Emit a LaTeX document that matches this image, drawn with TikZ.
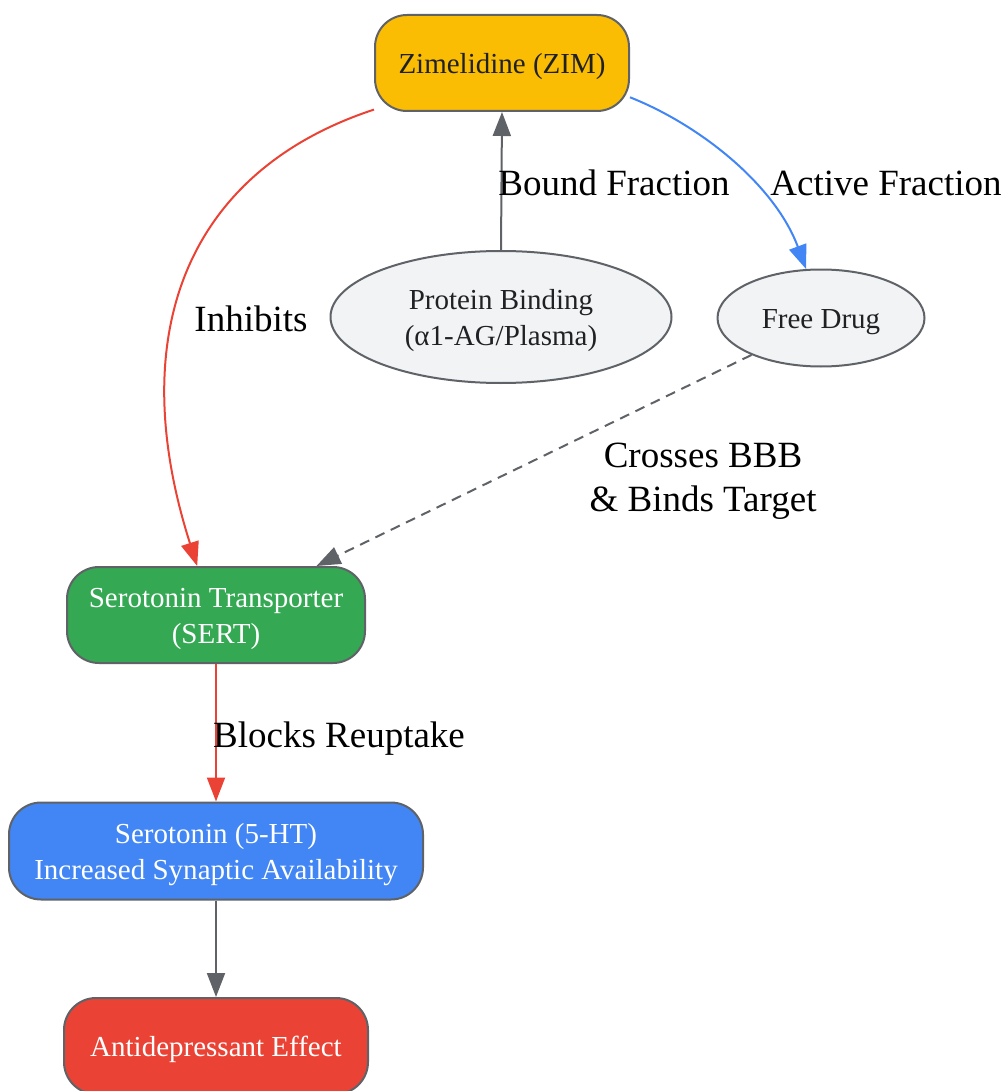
\documentclass[tikz,border=0pt]{standalone}
\usepackage{fontspec}
\setmainfont{Liberation Serif}
\usepackage{tikz}
\usetikzlibrary{arrows.meta,shapes.geometric}

\definecolor{zimyellow}{HTML}{FBBC04}
\definecolor{sertgreen}{HTML}{34A853}
\definecolor{htblue}{HTML}{4285F4}
\definecolor{effred}{HTML}{EA4335}
\definecolor{ovalgrey}{HTML}{F1F3F4}
\definecolor{edgegrey}{HTML}{5F6368}
\definecolor{darktext}{HTML}{202124}
\newcommand{\nodelift}{\rule{0pt}{28pt}}

\begin{document}
\begin{tikzpicture}[x=1pt,y=-1pt,
        >={Triangle[length=24pt,width=18pt]},
        box/.style={draw=edgegrey,line width=2pt,rounded corners=32pt,inner sep=0pt,align=center,font=\fontsize{29}{36}\selectfont},
        oval/.style={ellipse,draw=edgegrey,fill=ovalgrey,line width=2pt,inner sep=0pt,align=center,text=darktext,font=\fontsize{29}{36}\selectfont},
        lbl/.style={align=center,font=\fontsize{37}{44}\selectfont},
        link/.style={->,line width=2pt}]
        \useasboundingbox (0,0) rectangle (1005,1091);
        % nodes
        \node[box,fill=zimyellow,text=darktext,minimum width=254pt,minimum height=96pt] (zim) at (502,63) {\nodelift Zimelidine (ZIM)};
        \node[oval,minimum width=341pt,minimum height=132pt] (protein) at (501,317) {\nodelift Protein Binding\\(α1-AG/Plasma)};
        \node[oval,minimum width=207pt,minimum height=97pt] (free) at (821,318) {\nodelift Free Drug};
        \node[box,fill=sertgreen,text=white,minimum width=298pt,minimum height=96pt] (sert) at (216,615) {\nodelift Serotonin Transporter\\(SERT)};
        \node[box,fill=htblue,text=white,minimum width=414pt,minimum height=97pt] (sht) at (216,851) {\nodelift Serotonin (5-HT)\\Increased Synaptic Availability};
        \node[box,fill=effred,text=white,minimum width=304pt,minimum height=96pt] (effect) at (216,1046) {\nodelift Antidepressant Effect};
        % connectors
        \draw[link,effred] (zim.200) .. controls (190,170) and (122,330) .. (sert.111);
        \draw[link,edgegrey] (protein.north) -- (zim.south);
        \draw[link,htblue] (zim.-15) .. controls (700,125) and (775,185) .. (free.107);
        \draw[link,edgegrey,dash pattern=on 10pt off 7pt] (free.208) -- (sert.26);
        \draw[link,effred] (sert.south) -- (sht.north);
        \draw[link,edgegrey] (sht.south) -- (effect.north);
        % labels
        \node[lbl] (inhibits) at (251,319) {Inhibits};
        \node[lbl] (bound) at (614,183) {Bound Fraction};
        \node[lbl] (active) at (886,183) {Active Fraction};
        \node[lbl] (crosses) at (703,481) {Crosses BBB\\\& Binds Target};
        \node[lbl] (blocks) at (339,739) {Blocks Reuptake};
\end{tikzpicture}
\end{document}
